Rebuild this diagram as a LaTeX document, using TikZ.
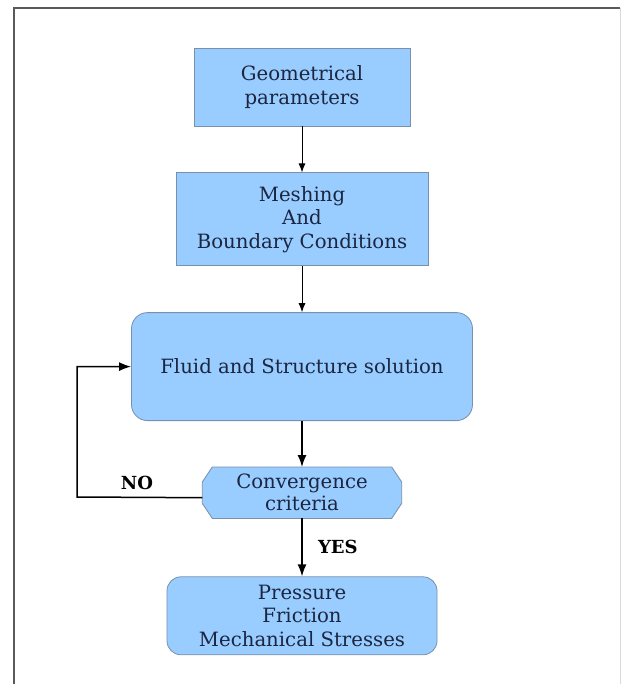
\documentclass[tikz,border=0pt]{standalone}
\usepackage{fontspec}
\setmainfont{DejaVu Serif}
\usetikzlibrary{arrows.meta,positioning,backgrounds}
\definecolor{boxfill}{HTML}{99CCFF}
\definecolor{boxline}{HTML}{7890AC}
\definecolor{ink}{HTML}{1B2640}
\definecolor{framecol}{HTML}{5A5A5A}

\begin{document}
\begin{tikzpicture}[x=1pt,y=-1pt,node distance=46pt,
	box/.style={rectangle,draw=boxline,fill=boxfill,line width=0.8pt,text=ink,align=center,font=\fontsize{19.7}{23.5}\selectfont},
	roundbox/.style={box,rounded corners=16pt},
	thin arrow/.style={-{Latex[length=9pt,width=7pt]},line width=0.9pt},
	thick arrow/.style={-{Latex[length=12pt,width=9pt]},line width=1.5pt},
	tag/.style={font=\bfseries\fontsize{18}{20}\selectfont,text=black}]

	\useasboundingbox (0,0) rectangle (622,684);
	\draw[framecol,line width=1.2pt] (14,684) -- (14,8) -- (620,8);
	\draw[black!15,line width=0.8pt] (620,8) -- (620,684);

	\node[box,minimum width=216pt,minimum height=78pt] (geo) at (302,87) {Geometrical\\parameters};
	\node[box,minimum width=252pt,minimum height=93pt,below=of geo] (mesh) {Meshing\\And\\Boundary Conditions};
	\node[roundbox,minimum width=341pt,minimum height=108pt,below=of mesh] (fsi) {Fluid and Structure solution};
	\node[rectangle,text=ink,align=center,font=\fontsize{19.7}{22}\selectfont,minimum width=199pt,minimum height=51pt,below=of fsi] (conv) {Convergence\\criteria};
	\node[roundbox,rounded corners=14pt,minimum width=270pt,minimum height=78pt,below=58pt of conv] (post) {Pressure\\Friction\\Mechanical Stresses};

	% octagon behind the convergence test
	\begin{scope}[on background layer]
		\filldraw[draw=boxline,fill=boxfill,line width=0.8pt]
		([xshift=10pt]conv.north west) -- ([xshift=-10pt]conv.north east) -- ([yshift=-15pt]conv.north east)
		-- ([yshift=15pt]conv.south east) -- ([xshift=-10pt]conv.south east) -- ([xshift=10pt]conv.south west)
		-- ([yshift=15pt]conv.south west) -- ([yshift=-15pt]conv.north west) -- cycle;
	\end{scope}

	\coordinate (turn) at (77,497);

	\draw[thin arrow] (geo) -- (mesh);
	\draw[thin arrow] (mesh) -- (fsi);
	\draw[thick arrow] (fsi) -- (conv);
	\draw[thick arrow] (conv) -- node[tag,midway,right=12pt] (yes) {YES} (post);
	\draw[thick arrow] ([yshift=-5pt]conv.west) -- (turn) |- (fsi.west);
	\node[tag] (no) at (137,483) {NO};
\end{tikzpicture}
\end{document}
